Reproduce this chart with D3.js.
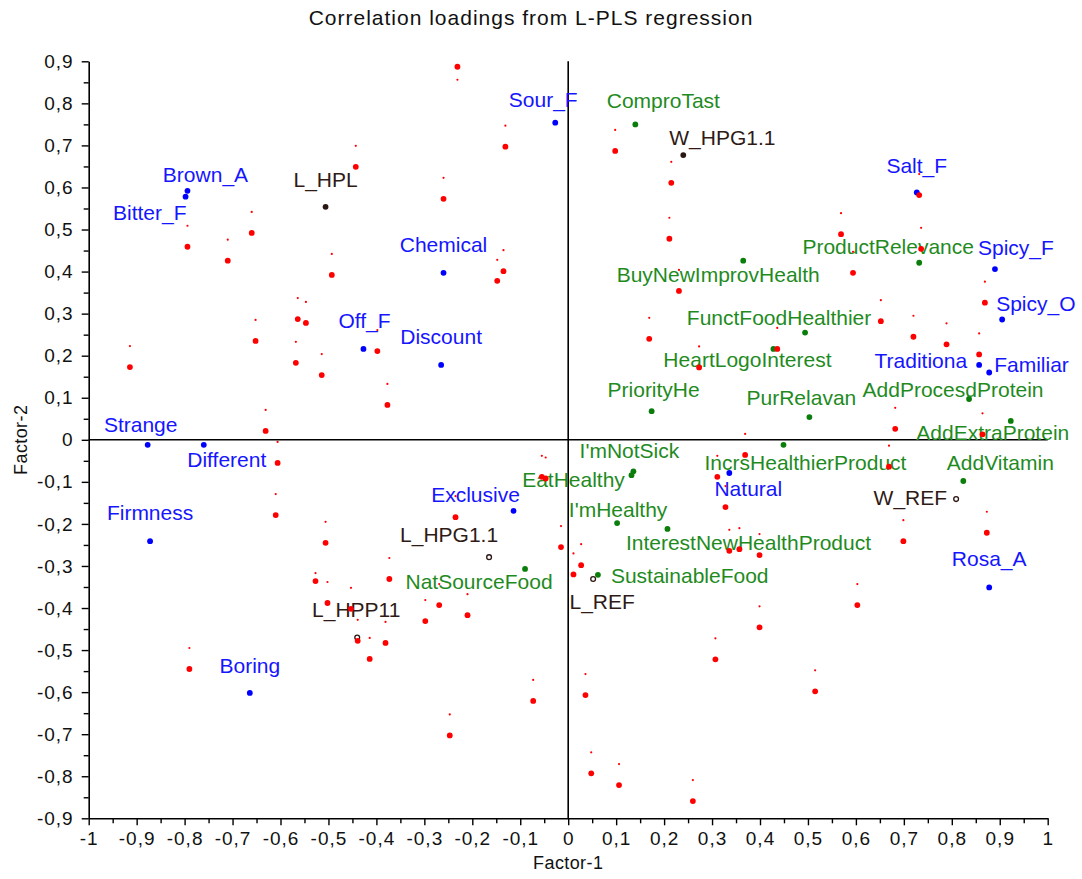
<!DOCTYPE html>
<html>
<head>
<meta charset="utf-8">
<script src="https://cdn.jsdelivr.net/npm/d3@7"></script>
<style>
  html, body { margin: 0; padding: 0; background: #fff; }
  svg { display: block; font-family: "Liberation Sans", Arial, sans-serif; }
</style>
</head>
<body>
<svg id="chart" width="1082" height="879"></svg>
<script>
// Correlation loadings (Factor-1, Factor-2) from an L-PLS regression

// Sensory / attribute variables (blue)
const attrNames = ["Brown_A", "Bitter_F", "Sour_F", "Chemical", "Salt_F", "Spicy_F", "Spicy_O",
  "Traditiona", "Familiar", "Off_F", "Discount", "Strange", "Different", "Firmness", "Boring",
  "Exclusive", "Natural", "Rosa_A"];
const attrF1 = [-0.794, -0.798, -0.027, -0.260, 0.727, 0.890, 0.905,
  0.857, 0.878, -0.427, -0.265, -0.877, -0.760, -0.872, -0.664,
  -0.114, 0.336, 0.878];
const attrF2 = [0.592, 0.578, 0.754, 0.397, 0.588, 0.406, 0.286,
  0.178, 0.160, 0.216, 0.178, -0.012, -0.012, -0.241, -0.602,
  -0.169, -0.079, -0.351];

// Consumer attitude variables (green)
const attitudeNames = ["ComproTast", "ProductRelevance", "BuyNewImprovHealth", "FunctFoodHealthier",
  "HeartLogoInterest", "PriorityHe", "PurRelavan", "AddProcesdProtein", "AddExtraProtein",
  "AddVitamin", "I'mNotSick", "EatHealthy", "I'mHealthy", "IncrsHealthierProduct",
  "InterestNewHealthProduct", "SustainableFood", "NatSourceFood"];
const attitudeF1 = [0.140, 0.732, 0.365, 0.494,
  0.428, 0.174, 0.503, 0.836, 0.923,
  0.824, 0.136, 0.132, 0.102, 0.449,
  0.207, 0.062, -0.090];
const attitudeF2 = [0.750, 0.421, 0.426, 0.255,
  0.216, 0.068, 0.054, 0.097, 0.045,
  -0.098, -0.075, -0.084, -0.198, -0.012,
  -0.212, -0.321, -0.307];

// Product samples (dark)
const productNames = ["L_HPL", "W_HPG1.1", "W_REF", "L_HPG1.1", "L_REF", "L_HPP11"];
const productF1 = [-0.506, 0.240, 0.809, -0.165, 0.052, -0.440];
const productF2 = [0.554, 0.677, -0.141, -0.279, -0.331, -0.470];

// Individual consumers (red)
const consumerF1 = [-0.443, -0.660, -0.794, -0.710, -0.493, -0.231, -0.131, -0.260, -0.135, -0.148,
  0.098, 0.215, 0.211, 0.231, 0.732, 0.569, 0.736, 0.594, 0.869, 0.652,
  0.720, 0.789, 0.857, 0.436, 0.273, 0.682, 0.864, 0.369, 0.669, 0.311,
  0.328, 0.873, 0.699, 0.336, 0.357, 0.399, 0.603, 0.399, 0.307, 0.515,
  0.260, -0.015, 0.027, 0.011, -0.373, -0.269, -0.298, -0.210, -0.381, -0.073,
  -0.247, 0.036, 0.048, 0.106, -0.377, 0.169, -0.055, -0.047, -0.235, -0.914,
  -0.652, -0.564, -0.547, -0.568, -0.514, -0.398, -0.631, -0.606, -0.610, -0.506,
  -0.527, -0.502, -0.453, -0.439, -0.414, -0.790];
const consumerF2 = [0.649, 0.492, 0.459, 0.426, 0.392, 0.887, 0.697, 0.573, 0.401, 0.378,
  0.687, 0.611, 0.478, 0.354, 0.582, 0.489, 0.454, 0.397, 0.326, 0.282,
  0.245, 0.227, 0.203, 0.216, 0.172, 0.026, 0.013, -0.036, -0.064, -0.088,
  -0.160, -0.221, -0.241, -0.264, -0.260, -0.274, -0.393, -0.446, -0.522, -0.598,
  -0.859, -0.255, -0.298, -0.320, -0.331, -0.393, -0.431, -0.417, -0.483, -0.621,
  -0.703, -0.607, -0.793, -0.821, 0.083, 0.240, -0.088, -0.092, -0.184, 0.173,
  0.235, 0.287, 0.278, 0.183, 0.154, 0.211, 0.021, -0.055, -0.179, -0.245,
  -0.336, -0.388, -0.402, -0.478, -0.521, -0.545];

const xTicks = d3.range(-10, 11).map(i => i / 10);
const yTicks = d3.range(-9, 10).map(i => i / 10);

// ---- label placement: [anchor, dx, dy] in px relative to the marker ----
const labelPlace = {
  "Brown_A": ["middle", 18, -9], "Bitter_F": ["end", 1, 23], "Sour_F": ["middle", -12, -16],
  "Chemical": ["middle", 0, -21], "Salt_F": ["middle", 0, -20], "Spicy_F": ["middle", 21, -14],
  "Spicy_O": ["start", -6, -9], "Traditiona": ["end", -12, 3], "Familiar": ["start", 5, -1],
  "Off_F": ["middle", 1, -21], "Discount": ["middle", 0, -21], "Strange": ["middle", -7, -13],
  "Different": ["middle", 23, 22], "Firmness": ["middle", 0, -21], "Boring": ["middle", 0, -20],
  "Exclusive": ["middle", -38, -9], "Natural": ["middle", 19, 23], "Rosa_A": ["middle", 0, -21],
  "ComproTast": ["middle", 28, -16], "ProductRelevance": ["middle", -31, -9],
  "BuyNewImprovHealth": ["middle", -25, 21], "FunctFoodHealthier": ["middle", -26, -8],
  "HeartLogoInterest": ["middle", -26, 18], "PriorityHe": ["middle", 2, -14],
  "PurRelavan": ["middle", -8, -12], "AddProcesdProtein": ["middle", -16, -2],
  "AddExtraProtein": ["middle", -18, 19], "AddVitamin": ["middle", 37, -11],
  "I'mNotSick": ["middle", -4, -13], "EatHealthy": ["middle", -58, 12],
  "I'mHealthy": ["middle", 1, -6], "IncrsHealthierProduct": ["middle", 22, 25],
  "InterestNewHealthProduct": ["middle", 81, 21], "SustainableFood": ["start", 13, 8],
  "NatSourceFood": ["middle", -46, 20],
  "L_HPL": ["middle", 0, -20], "W_HPG1.1": ["start", -14, -10], "W_REF": ["end", -9, 6],
  "L_HPG1.1": ["middle", -40, -15], "L_REF": ["middle", 9, 30], "L_HPP11": ["middle", -1, -20]
};
// tiny consumer tags sit above each red marker; a few are shifted
const tagOffsetDefault = -21;
const tagOffsetOverride = { 5: 13, 70: -8 };
const hollowProducts = new Set(["W_REF", "L_HPG1.1", "L_REF", "L_HPP11"]);

const colors = {
  attr: "#0000ff", attrText: "#1515ff",
  attitude: "#0a7d0a", attitudeText: "#1f8b1f",
  product: "#2a1612", productText: "#2f1a16",
  consumer: "#ff0000"
};

// ---- scales ----
const svg = d3.select("#chart");
const x = d3.scaleLinear().domain([-1, 1]).range([88.7, 1047.7]);
const y = d3.scaleLinear().domain([-0.9, 0.9]).range([818.3, 61.3]);

const fmt = v => {
  const r = Math.round(v * 10) / 10;
  if (r === 0) return "0";
  if (Math.abs(r) === 1) return r < 0 ? "-1" : "1";
  return (r < 0 ? "-" : "") + Math.abs(r).toFixed(1).replace(".", ",");
};

// ---- axes ----
const minorX = d3.range(-19, 20, 2).map(i => i / 20);
const minorY = d3.range(-17, 18, 2).map(i => i / 20);

const xAxisG = svg.append("g").attr("transform", `translate(0,${y(-0.9)})`);
xAxisG.call(d3.axisBottom(x).tickValues(xTicks).tickFormat(fmt).tickSize(7).tickSizeOuter(0).tickPadding(6));
const xMinor = svg.append("g").attr("transform", `translate(0,${y(-0.9)})`);
xMinor.call(d3.axisBottom(x).tickValues(minorX).tickFormat("").tickSize(5).tickSizeOuter(0));
xMinor.select(".domain").remove();

const yAxisG = svg.append("g").attr("transform", `translate(${x(-1)},0)`);
yAxisG.call(d3.axisLeft(y).tickValues(yTicks).tickFormat(fmt).tickSize(7).tickSizeOuter(0).tickPadding(8));
const yMinor = svg.append("g").attr("transform", `translate(${x(-1)},0)`);
yMinor.call(d3.axisLeft(y).tickValues(minorY).tickFormat("").tickSize(5).tickSizeOuter(0));
yMinor.select(".domain").remove();

svg.selectAll(".domain").attr("stroke", "#000").attr("stroke-width", 1.6);
svg.selectAll(".tick line").attr("stroke", "#000").attr("stroke-width", 1.4);
svg.selectAll(".tick text").attr("font-size", 19).attr("fill", "#111")
  .attr("font-family", "'Liberation Sans', Arial, sans-serif").attr("letter-spacing", 1);

// ---- zero reference lines ----
svg.append("line").attr("x1", x(-1)).attr("x2", x(1)).attr("y1", y(0)).attr("y2", y(0))
  .attr("stroke", "#000").attr("stroke-width", 1.6);
svg.append("line").attr("x1", x(0)).attr("x2", x(0)).attr("y1", y(0.9)).attr("y2", y(-0.9))
  .attr("stroke", "#000").attr("stroke-width", 1.6);

// ---- titles ----
svg.append("text").attr("x", 531).attr("y", 25).attr("text-anchor", "middle")
  .attr("font-size", 21).attr("letter-spacing", 1).attr("fill", "#111")
  .text("Correlation loadings from L-PLS regression");
svg.append("text").attr("x", x(0)).attr("y", 869).attr("text-anchor", "middle")
  .attr("font-size", 18).attr("letter-spacing", 0.4).attr("fill", "#111").text("Factor-1");
svg.append("text").attr("transform", `translate(27,${y(0)}) rotate(-90)`).attr("text-anchor", "middle")
  .attr("font-size", 18).attr("letter-spacing", 0.4).attr("fill", "#111").text("Factor-2");

// ---- labelled variables ----
function drawGroup(names, f1, f2, fill, textFill, hollow) {
  const rows = names.map((n, i) => ({ name: n, f1: f1[i], f2: f2[i] }));
  const g = svg.append("g");
  g.selectAll("circle").data(rows).join("circle")
    .attr("cx", d => x(d.f1)).attr("cy", d => y(d.f2))
    .attr("r", d => hollow && hollow.has(d.name) ? 2.4 : 2.9)
    .attr("fill", d => hollow && hollow.has(d.name) ? "#fff" : fill)
    .attr("stroke", d => hollow && hollow.has(d.name) ? fill : "none")
    .attr("stroke-width", 1.3);
  g.selectAll("text").data(rows).join("text")
    .attr("x", d => x(d.f1) + labelPlace[d.name][1])
    .attr("y", d => y(d.f2) + labelPlace[d.name][2])
    .attr("text-anchor", d => labelPlace[d.name][0])
    .attr("font-size", 21).attr("fill", textFill)
    .text(d => d.name);
}
drawGroup(attrNames, attrF1, attrF2, colors.attr, colors.attrText);
drawGroup(attitudeNames, attitudeF1, attitudeF2, colors.attitude, colors.attitudeText);
drawGroup(productNames, productF1, productF2, colors.product, colors.productText, hollowProducts);

// ---- consumers ----
const consumers = consumerF1.map((v, i) => ({ i, f1: v, f2: consumerF2[i] }));
const cg = svg.append("g");
cg.selectAll("circle.tag").data(consumers).join("circle").attr("class", "tag")
  .attr("cx", d => x(d.f1))
  .attr("cy", d => y(d.f2) + (tagOffsetOverride[d.i] !== undefined ? tagOffsetOverride[d.i] : tagOffsetDefault))
  .attr("r", 1.1).attr("fill", colors.consumer);
cg.selectAll("circle.pt").data(consumers).join("circle").attr("class", "pt")
  .attr("cx", d => x(d.f1)).attr("cy", d => y(d.f2))
  .attr("r", 2.9).attr("fill", colors.consumer);
</script>
</body>
</html>
